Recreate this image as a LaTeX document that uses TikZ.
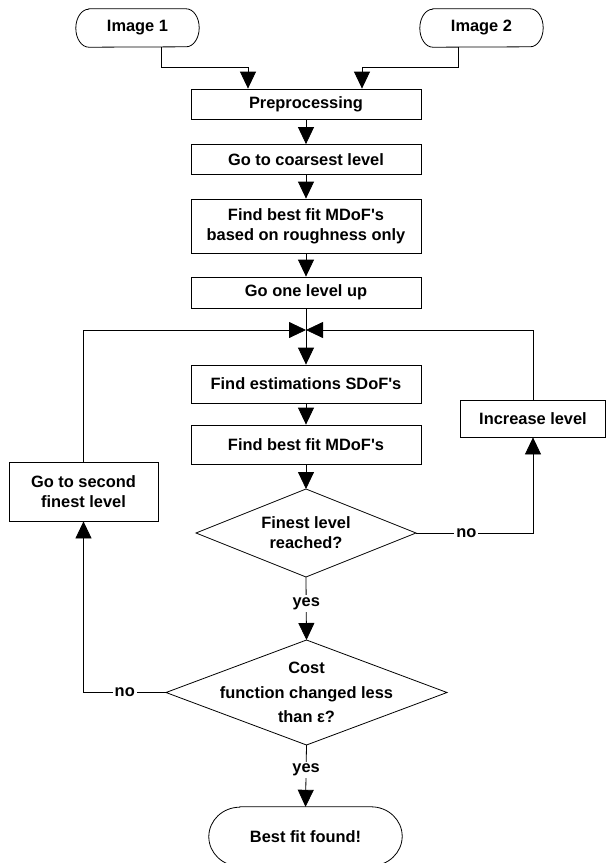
\documentclass[tikz,border=0pt]{standalone}
\usepackage{fontspec}
\setmainfont{Liberation Sans}
\usetikzlibrary{arrows.meta,calc}
\newcommand\termoutline[3]{%
  \draw[outl] ([xshift=#2pt]#1.north west) -- ([xshift=-#2pt]#1.north east)
    arc[start angle=90,end angle=-90,x radius=#2pt,y radius=#3pt]
    -- ([xshift=#2pt]#1.south west)
    arc[start angle=270,end angle=90,x radius=#2pt,y radius=#3pt] -- cycle;}
\newcommand\diamondoutline[3]{%
  \coordinate (#1t) at ([yshift=#3pt]#1.center);
  \coordinate (#1b) at ([yshift=-#3pt]#1.center);
  \coordinate (#1l) at ([xshift=-#2pt]#1.center);
  \coordinate (#1r) at ([xshift=#2pt]#1.center);
  \draw[outl] (#1t) -- (#1r) -- (#1b) -- (#1l) -- cycle;}
\begin{document}
\begin{tikzpicture}[x=1pt,y=-1pt,
  font=\fontsize{16.4}{20}\selectfont\bfseries,
  outl/.style={line width=0.8pt},
  box/.style={draw,line width=0.8pt,minimum width=230pt,inner sep=0pt,align=center},
  term/.style={inner sep=0pt,align=center},
  dtext/.style={inner sep=0pt,align=center},
  lbl/.style={fill=white,inner sep=2pt},
  conn/.style={line width=0.8pt},
  arr/.style={line width=0.8pt,-{Triangle[length=17pt,width=16pt]}}]
\useasboundingbox (0,0) rectangle (606,863);
% terminals
\node[term,minimum width=123pt,minimum height=38pt] (im1) at (137.5,28) {Image 1};
\node[term,minimum width=123pt,minimum height=38pt] (im2) at (481.5,28) {Image 2};
\termoutline{im1}{13}{19}
\termoutline{im2}{13}{19}
% boxes
\node[box,minimum height=30pt] (pre) at (306,104) {Preprocessing};
\node[box,minimum height=30pt] (coarse) at (306,159.5) {Go to coarsest level};
\node[box,minimum height=54pt] (rough) at (306,226) {Find best fit MDoF\textquotesingle s\\based on roughness only};
\node[box,minimum height=31pt] (goup) at (306,292.5) {Go one level up};
\coordinate (junc) at (306,330);
\node[box,minimum height=38pt] (est) at (306,384) {Find estimations SDoF\textquotesingle s};
\node[box,minimum height=39pt] (best) at (306,444.5) {Find best fit MDoF\textquotesingle s};
\node[box,minimum width=145pt,minimum height=37pt] (inc) at (533,418.5) {Increase level};
\node[box,minimum width=149pt,minimum height=59pt] (sec) at (83.5,491.5) {Go to second\\finest level};
% decisions
\node[dtext] (d1) at (306,533) {Finest level\\reached?};
\diamondoutline{d1}{110}{44}
\node[dtext,font=\fontsize{16.4}{24.5}\selectfont\bfseries] (d2) at (306.5,692.5) {Cost\\function changed less\\than ε?};
\diamondoutline{d2}{140.5}{52.5}
% final terminal
\node[term,minimum width=193pt,minimum height=59pt] (fin) at (305.5,836.5) {Best fit found!};
\termoutline{fin}{31}{29.5}
% connectors
\draw[arr] ([xshift=23.5pt]im1.south) -- ++(0,20) -| ([xshift=-58pt]pre.north);
\draw[arr] ([xshift=-23.5pt]im2.south) -- ++(0,20) -| ([xshift=56pt]pre.north);
\draw[arr] (pre) -- (coarse);
\draw[arr] (coarse) -- (rough);
\draw[arr] (rough) -- (goup);
\draw[conn] (goup.south) -- (junc);
\draw[arr] (junc) -- (est.north);
\draw[arr] (est) -- (best);
\draw[arr] (best.south) -- (d1t);
\draw[arr] (d1r) -- node[lbl,pos=0.43] {no} (d1r -| inc.south) -- (inc.south);
\draw[arr] (inc.north) |- (junc);
\draw[arr] (sec.north) |- (junc);
\draw[arr] (d1b) -- node[lbl,pos=0.42] {yes} (d2t);
\draw[arr] (d2l) -- node[lbl] {no} (d2l -| sec.south) -- (sec.south);
\draw[arr] (d2b) -- node[lbl,pos=0.4] {yes} (fin.north);
\end{tikzpicture}
\end{document}
